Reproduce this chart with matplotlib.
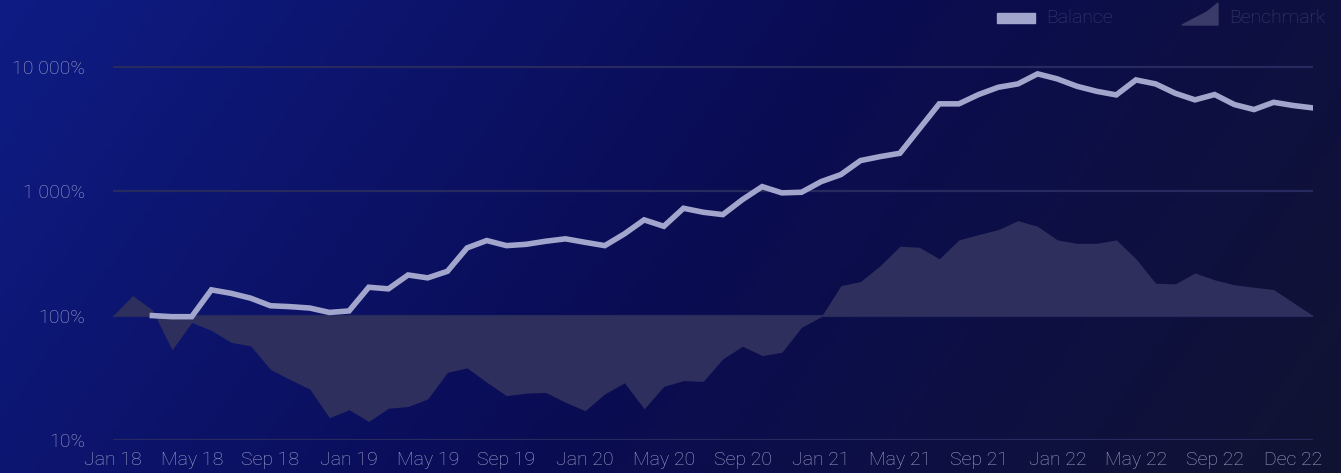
import numpy as np
import matplotlib
matplotlib.use("Agg")
import matplotlib.pyplot as plt
from matplotlib.patches import Rectangle, Polygon
from matplotlib.ticker import FixedLocator, NullLocator

plt.rcParams['font.family'] = ['Roboto', 'DejaVu Sans']

# monthly index 0 = Jan 18
balance_start = 2
balance = [100, 98, 98, 161, 151, 138, 120, 118, 115, 106, 109, 169, 164, 212, 201, 227,
           350, 401, 365, 374, 396, 414, 388, 365, 454, 588, 522, 729, 677, 648, 856, 1088,
           969, 980, 1194, 1359, 1762, 1897, 2017, 3186, 5035, 5035, 5980, 6840, 7280, 8770,
           7990, 6970, 6350, 5940, 7840, 7280, 6120, 5420, 5980, 4970, 4530, 5180, 4880, 4670]
benchmark = [100, 145, 111, 53, 88, 76, 61, 57, 37, 30.6, 25.7, 15.1, 17.5, 14.1, 18.0, 18.6,
             21.4, 35.0, 38.0, 29.1, 22.7, 23.8, 24.1, 20.1, 17.2, 23.5, 28.8, 17.8, 27.0, 30.0,
             29.6, 44.9, 56.7, 47.7, 50.7, 80.5, 98, 174, 188, 252, 361, 354, 286, 406, 448, 491,
             580, 522, 406, 381, 381, 406, 286, 182, 180, 220, 194, 177, 169, 162, 127, 100]
tick_pos = [0, 4, 8, 12, 16, 20, 24, 28, 32, 36, 40, 44, 48, 52, 56, 60]
tick_labels = ["Jan 18", "May 18", "Sep 18", "Jan 19", "May 19", "Sep 19", "Jan 20", "May 20",
               "Sep 20", "Jan 21", "May 21", "Sep 21", "Jan 22", "May 22", "Sep 22", "Dec 22"]
y_ticks = [10, 100, 1000, 10000]
y_labels = ["10%", "100%", "1 000%", "10 000%"]

W, H = 1341, 473
fig = plt.figure(figsize=(W / 100, H / 100), dpi=100)

# background gradient
bg = fig.add_axes([0, 0, 1, 1], zorder=-10)
gx, gy = np.meshgrid(np.linspace(0, 1, 300), np.linspace(0, 1, 110))
t = np.clip((gx + 0.25 * gy) / 1.25, 0, 1)
stops = np.array([[14, 28, 132], [10, 12, 84], [17, 19, 50]]) / 255
img = np.empty(t.shape + (3,))
for c in range(3):
    img[..., c] = np.interp(t, [0, 0.5, 1], stops[:, c])
bg.imshow(img, aspect='auto', extent=[0, 1, 0, 1], origin='upper')
bg.axis('off')

ax = fig.add_axes([113 / W, 33 / H, 1200 / W, (440 - 17) / H])
ax.patch.set_alpha(0)
for s in ax.spines.values():
    s.set_visible(False)
ax.set_yscale('log')
ax.set_xlim(0, len(benchmark) - 1)
ax.set_ylim(10, 10 ** 4.4)

x_bench = np.arange(len(benchmark))
ax.fill_between(x_bench, benchmark, 100, color='#2e2f5c', lw=0, zorder=2)
x_bal = np.arange(balance_start, balance_start + len(balance))
ax.plot(x_bal, balance, color='#a3a6cc', lw=4, solid_joinstyle='miter', zorder=4)

for v in y_ticks:
    ax.axhline(v, color='#272a5e', lw=1.6, zorder=1)

ax.yaxis.set_major_locator(FixedLocator(y_ticks))
ax.yaxis.set_minor_locator(NullLocator())
ax.set_yticklabels(y_labels)
ax.set_xticks(tick_pos)
ax.set_xticklabels(tick_labels)
ax.tick_params(length=0, colors='#a0a2cb', labelsize=14)
ax.tick_params(axis='x', pad=8)
ax.tick_params(axis='y', pad=20)
for lbl in ax.get_xticklabels() + ax.get_yticklabels():
    lbl.set_fontweight('light')

# legend
fig.patches.append(Rectangle((997 / W, 1 - 22.7 / H), 38 / W, 9.7 / H,
                             transform=fig.transFigure, color='#a3a6cc', figure=fig))
fig.text(1046 / W, 1 - 18 / H, "Balance", color='#3a3d74', fontsize=14,
         fontweight='light', va='center', ha='left')
fig.patches.append(Polygon([(1182 / W, 1 - 25 / H), (1207 / W, 1 - 12 / H),
                            (1218 / W, 1 - 3 / H), (1218 / W, 1 - 25 / H)],
                           closed=True, transform=fig.transFigure, color='#3a3b68', figure=fig))
fig.text(1229 / W, 1 - 18 / H, "Benchmark", color='#3a3d74', fontsize=14,
         fontweight='light', va='center', ha='left')

fig.savefig("out.png", dpi=100)
